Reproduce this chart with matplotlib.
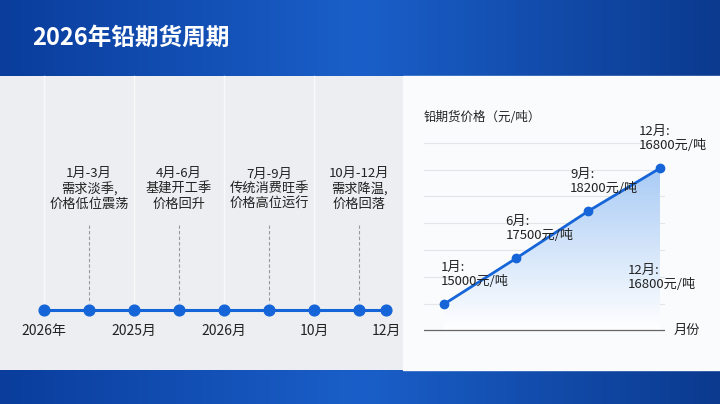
import numpy as np
import matplotlib.pyplot as plt
from matplotlib.colors import LinearSegmentedColormap

plt.rcParams['font.family'] = ['Noto Sans CJK SC', 'DejaVu Sans']

title = "2026年铅期货周期"
# timeline
tick_labels = ["2026年", "2025月", "2026月", "10月", "12月"]
tick_pos = [0, 2, 4, 6, 7.6]
phase_labels = ["1月-3月\n需求淡季,\n价格低位震荡", "4月-6月\n基建开工季\n价格回升",
                "7月-9月\n传统消费旺季\n价格高位运行", "10月-12月\n需求降温,\n价格回落"]
phase_pos = [1, 3, 5, 7]
# price chart
months = ["1月", "6月", "9月", "12月"]
price_level = [0, 1.7, 3.45, 5.05]  # drawn heights (gridline units)
price_text = ["1月:\n15000元/吨", "6月:\n17500元/吨", "9月:\n18200元/吨", "12月:\n16800元/吨"]
extra_text = "12月:\n16800元/吨"

blue = "#1565d8"
fw = "medium"
fig = plt.figure(figsize=(7.2, 4.04), dpi=100)
bg = fig.add_axes([0, 0, 1, 1])
bg.set_xlim(0, 720); bg.set_ylim(404, 0); bg.axis("off")
bg.add_patch(plt.Rectangle((0, 0), 720, 404, color="#eceef1", zorder=0))
hdr = LinearSegmentedColormap.from_list("h", ["#0a3d9c", "#1a5fc9", "#0b3a8f"])
bg.imshow(np.linspace(0, 1, 256)[None, :], cmap=hdr, extent=[0, 720, 76, 0], aspect="auto", zorder=1)
bg.imshow(np.linspace(0, 1, 256)[None, :], cmap=hdr, extent=[0, 720, 404, 370], aspect="auto", zorder=1)
bg.text(32, 38, title, color="white", fontsize=17, fontweight="bold", va="center", zorder=2)
bg.add_patch(plt.Rectangle((403, 76), 317, 294, color="#fafbfc", zorder=1))

# timeline panel
x0, dx, ty = 44, 45, 310
for p in tick_pos[:4]:
    bg.plot([x0 + p * dx] * 2, [76, ty], color="#f8f9fa", lw=1.0, zorder=2)
bg.plot([x0, x0 + 7.6 * dx], [ty, ty], color=blue, lw=2.2, zorder=3)
dots = sorted(tick_pos + phase_pos)
bg.scatter([x0 + p * dx for p in dots], [ty] * len(dots), s=60, color=blue, zorder=4)
for p, lab in zip(tick_pos, tick_labels):
    bg.text(x0 + p * dx, 331, lab, ha="center", va="center", fontsize=10, fontweight=fw, color="#222", zorder=4)
for p, lab in zip(phase_pos, phase_labels):
    x = x0 + p * dx
    bg.plot([x, x], [225, 303], color="#999", lw=0.8, ls=(0, (3, 2)), zorder=2)
    bg.text(x, 189, lab, ha="center", va="center", fontsize=9.5, fontweight=fw, color="#222",
            linespacing=1.2, zorder=4)

# price chart
ax = fig.add_axes([424 / 720, 1 - 335 / 404, 241 / 720, 195 / 404])
ax.set_xlim(-0.28, 3.07); ax.set_ylim(-1.15, 6.1)
ax.axis("off")
for g in range(7):
    ax.axhline(g, color="#e3e5e8", lw=0.8, zorder=0)
ax.axhline(-0.97, color="#666", lw=0.9)
xs = np.arange(len(months))
grad = LinearSegmentedColormap.from_list("g", ["#ffffff", "#a9cbf5"])
im = ax.imshow(np.linspace(0, 1, 256)[:, None], cmap=grad, extent=[0, 3, -0.97, price_level[-1]],
               aspect="auto", origin="lower", zorder=1)
poly = ax.fill_between(xs, price_level, -0.97, color="none")
im.set_clip_path(poly.get_paths()[0], transform=ax.transData)
ax.plot(xs, price_level, color=blue, lw=2, marker="o", ms=6, zorder=3)
offs = [(-0.05, 0.6), (-0.15, 0.6), (-0.25, 0.6), (-0.3, 0.6)]
for x, y, t, o in zip(xs, price_level, price_text, offs):
    ax.text(x + o[0], y + o[1], t, fontsize=9.5, fontweight=fw, color="#222", va="bottom", ha="left",
            linespacing=1.1, zorder=4)
ax.text(2.55, 0.5, extra_text, fontsize=9.5, fontweight=fw, color="#222", va="bottom", ha="left",
        linespacing=1.1, zorder=4)
bg.text(424, 117, "铅期货价格（元/吨）", fontsize=9, fontweight=fw, color="#222", va="center", zorder=4)
bg.text(674, 330, "月份", fontsize=9.5, fontweight=fw, color="#222", va="center", zorder=4)

fig.savefig("out.png", dpi=100)
